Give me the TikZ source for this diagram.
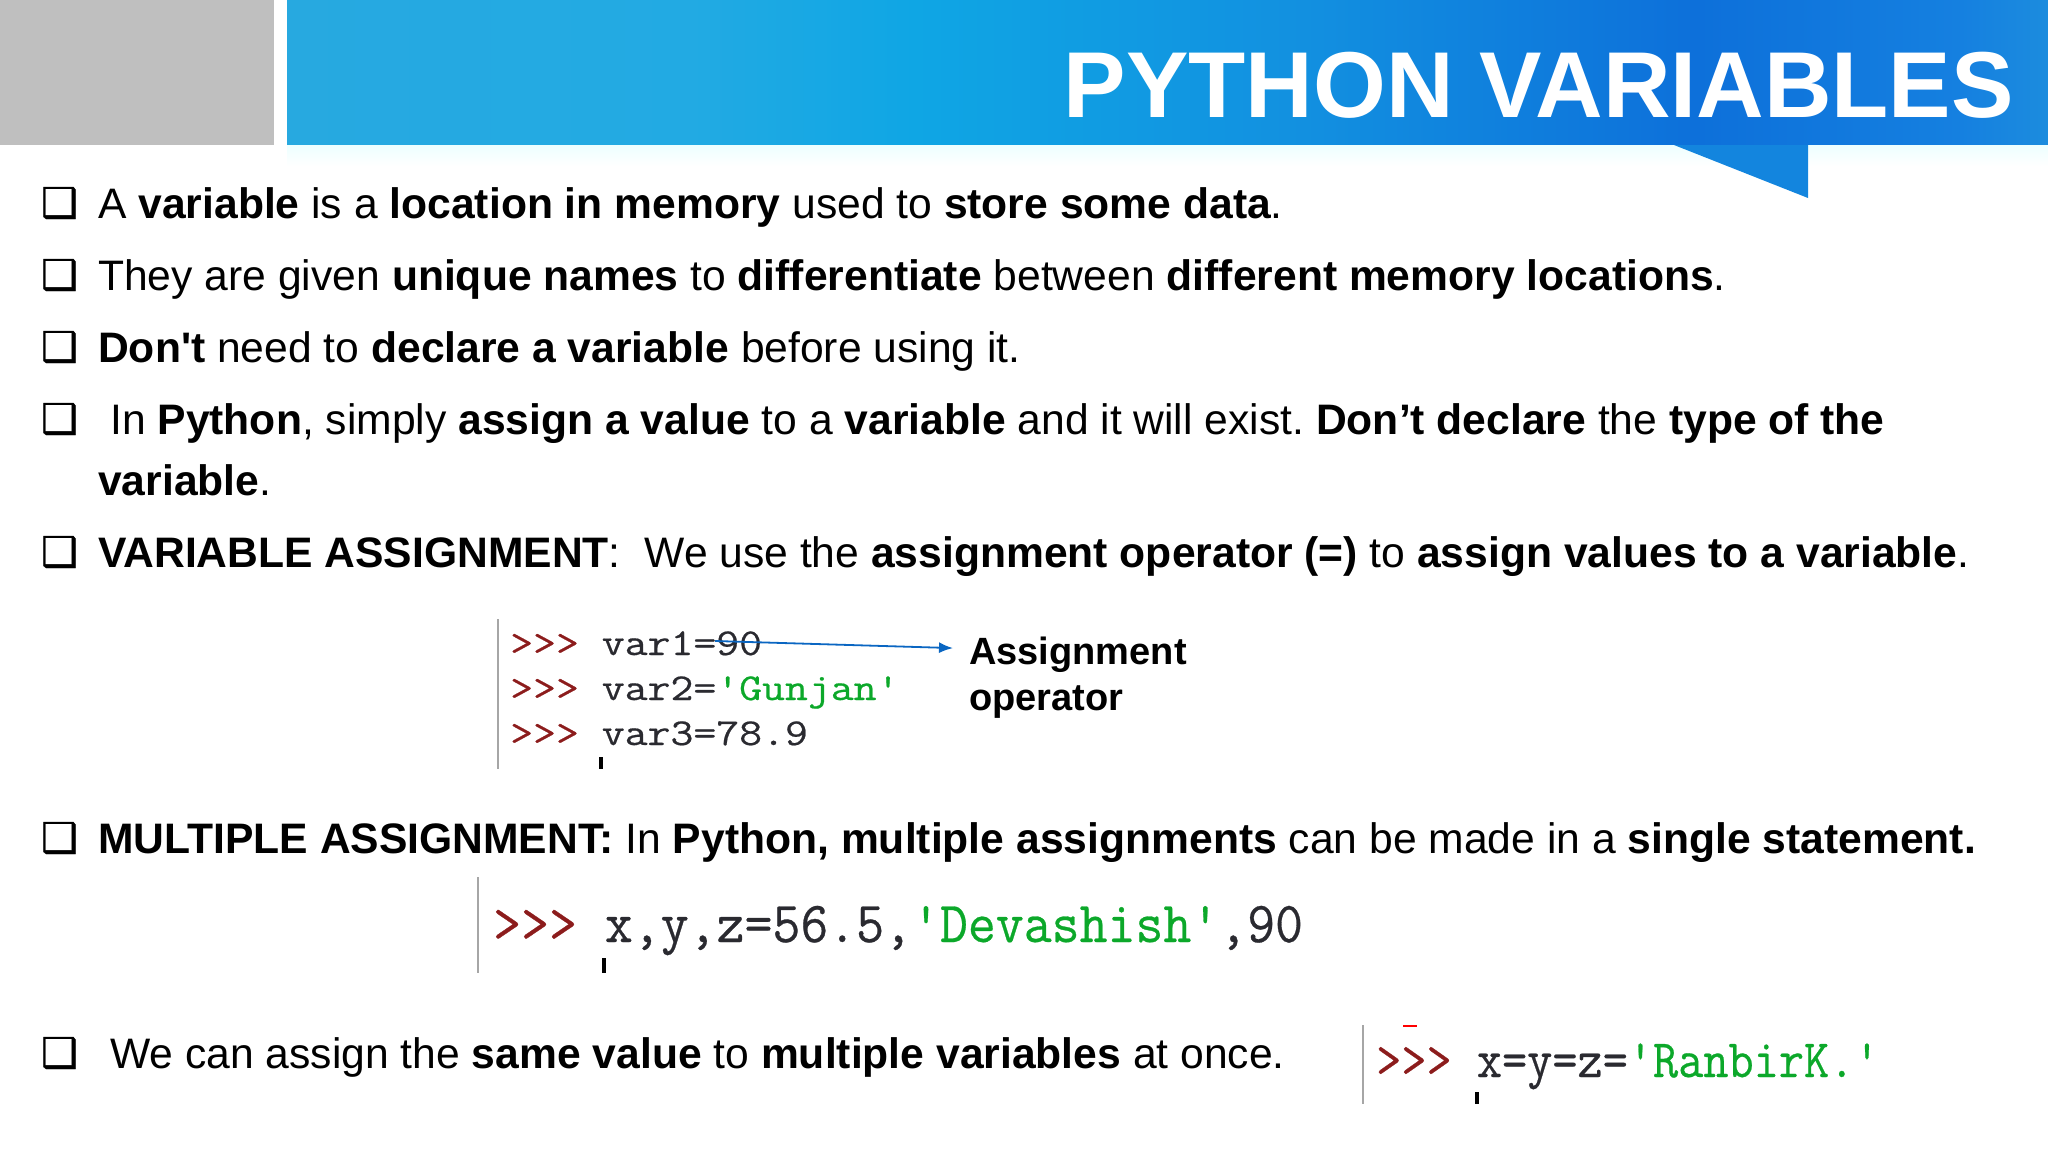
\documentclass[tikz,border=0pt]{standalone}
\usepackage{fontspec}
\usepackage{xcolor}
\usetikzlibrary{arrows.meta}
\setmainfont{Liberation Sans}
\newfontfamily\markfont[FakeBold=0.8]{DejaVu Sans}
\newfontfamily\codefont[FakeBold=0.5]{Latin Modern Mono}
\frenchspacing

\definecolor{tabblue}{HTML}{1385DE}
\definecolor{promptred}{HTML}{8C1C1C}
\definecolor{stringgreen}{HTML}{0CA82A}
\definecolor{codeink}{HTML}{2A2A30}
\definecolor{arrowblue}{HTML}{0A66C2}
\pgfdeclarehorizontalshading{bandfade}{100bp}{
    color(0bp)=(rgb,255:red,39;green,169;blue,224);
    color(25bp)=(rgb,255:red,39;green,169;blue,224);
    color(36.5bp)=(rgb,255:red,34;green,170;blue,227);
    color(42.8bp)=(rgb,255:red,15;green,166;blue,228);
    color(53.9bp)=(rgb,255:red,18;green,144;blue,224);
    color(65bp)=(rgb,255:red,13;green,112;blue,218);
    color(72.5bp)=(rgb,255:red,21;green,128;blue,224);
    color(75bp)=(rgb,255:red,28;green,140;blue,222);
    color(100bp)=(rgb,255:red,28;green,140;blue,222)}

\tikzset{
    bodyline/.style={anchor=base west, inner sep=0pt, font=\fontsize{42.63}{42.63}\selectfont},
    bulletmark/.style={anchor=base west, inner sep=0pt, font=\fontsize{41}{41}\markfont},
    labelline/.style={anchor=base west, inner sep=0pt, font=\fontsize{38}{38}\bfseries\selectfont},
    codeline/.style={anchor=base west, inner sep=0pt, text=codeink, transform shape},
    rulebar/.style={draw=gray!70, line width=1.6pt},
    cursorbar/.style={draw=black, line width=4pt}
}
\newcommand{\prompt}{\textcolor{promptred}{>>>}}

\begin{document}
\begin{tikzpicture}[x=1pt,y=-1pt]
    \useasboundingbox (0,0) rectangle (2048,1152);

    % Header band
    \fill[black!25] (0,0) rectangle (274,145);
    \shade[shading=bandfade] (287,0) rectangle (2048,145);
    \shade[top color=cyan!7, bottom color=white] (287,145) rectangle (2048,166);
    \fill[tabblue] (1674,145) -- (1808,198) -- (1808,145) -- cycle;
    \node[anchor=base east, inner sep=0pt, text=white, font=\fontsize{93.6}{93.6}\bfseries\selectfont] (title) at (2014,117) {PYTHON VARIABLES};

    % Bullets
    \foreach \n/\y in {1/217,2/289,3/361,4/433,5/566,6/852,7/1067}
        \node[bulletmark] (mark\n) at (41,\y) {❑};

    % Text lines
    \node[bodyline] (line1) at (98,218.5) {A \textbf{variable} is a \textbf{location in memory} used to \textbf{store some data}.};
    \node[bodyline] (line2) at (98,290.5) {They are given \textbf{unique names} to \textbf{differentiate} between \textbf{different memory locations}.};
    \node[bodyline] (line3) at (98,362.5) {\textbf{Don\textquotesingle t} need to \textbf{declare a variable} before using it.};
    \node[bodyline] (line4) at (110,434.5) {In \textbf{Python}, simply \textbf{assign a value} to a \textbf{variable} and it will exist. \textbf{Don’t declare} the \textbf{type of the}};
    \node[bodyline] (line4b) at (98,495.5) {\textbf{variable}.};
    \node[bodyline] (line5) at (98,567.5) {\textbf{VARIABLE ASSIGNMENT}:\ \ We use the \textbf{assignment operator (=)} to \textbf{assign values to a variable}.};
    \node[bodyline] (line6) at (98,853.5) {\textbf{MULTIPLE ASSIGNMENT:} In \textbf{Python, multiple assignments} can be made in a \textbf{single statement.}};
    \node[bodyline] (line7) at (110,1068.5) {We can assign the \textbf{same value} to \textbf{multiple variables} at once.};

    % First code block
    \draw[rulebar] (498,619) -- (498,769);
    \node[codeline, xscale=1.17, font=\fontsize{38}{38}\codefont] (code1) at (510,655) {\prompt{} var1=90};
    \node[codeline, xscale=1.17, font=\fontsize{38}{38}\codefont] (code2) at (510,700) {\prompt{} var2=\textcolor{stringgreen}{\textquotesingle Gunjan\textquotesingle}};
    \node[codeline, xscale=1.17, font=\fontsize{38}{38}\codefont] (code3) at (510,745) {\prompt{} var3=78.9};
    \draw[cursorbar] (601,757) -- (601,769);

    \coordinate (arrowstart) at (715,641);
    \node[labelline] (assign) at (969,664) {Assignment};
    \node[labelline] (operator) at (969,710) {operator};
    \draw[-{Latex[length=14pt,width=11pt]}, arrowblue, line width=1.8pt, shorten >=16pt] (arrowstart) -- (assign.177);

    % Second code block
    \draw[rulebar] (478,877) -- (478,973);
    \node[codeline, xscale=0.935, font=\fontsize{58}{58}\codefont] (code4) at (493,942) {\prompt{} x,y,z=56.5,\textcolor{stringgreen}{\textquotesingle Devashish\textquotesingle},90};
    \draw[cursorbar] (604,958) -- (604,973);

    % Third code block
    \draw[rulebar] (1363,1025) -- (1363,1104);
    \draw[red, line width=2pt] (1403,1026) -- (1417,1026);
    \node[codeline, xscale=0.905, font=\fontsize{54}{54}\codefont] (code5) at (1376,1077) {\prompt{} x=y=z=\textcolor{stringgreen}{\textquotesingle RanbirK.\textquotesingle}};
    \draw[cursorbar] (1477,1092) -- (1477,1104);
\end{tikzpicture}
\end{document}
